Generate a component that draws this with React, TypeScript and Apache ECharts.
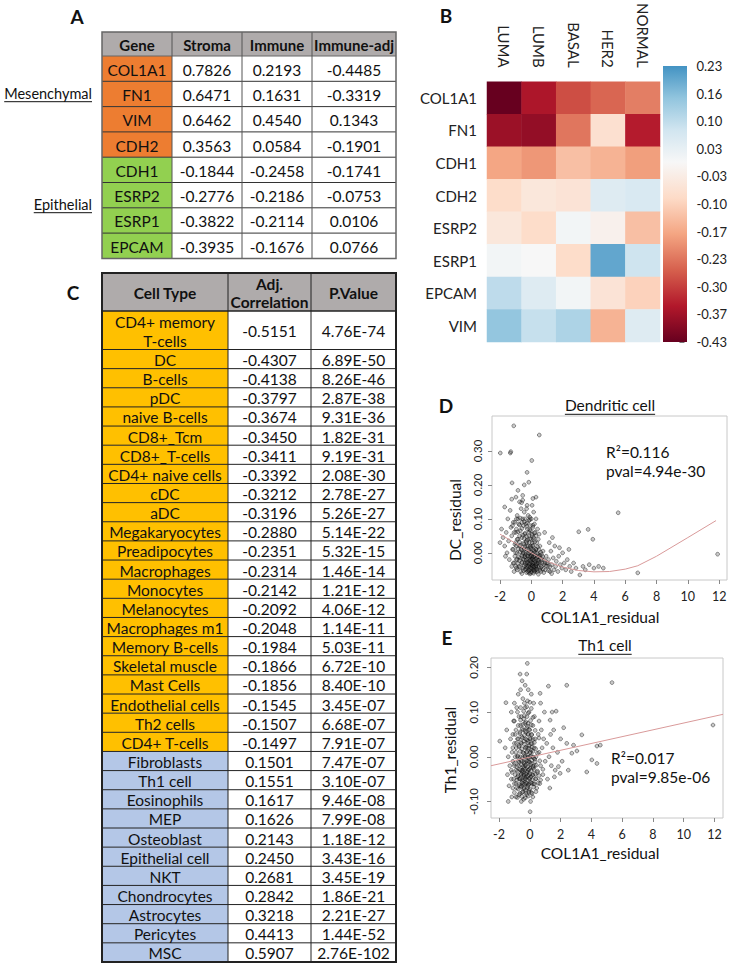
import React, { useEffect, useRef } from "react";
import * as echarts from "echarts";

const FONT = "Lato, 'Open Sans', sans-serif";

// ---------- Panel A ----------
const tableAHeader = ["Gene", "Stroma", "Immune", "Immune-adj"];
const tableAGenes = ["COL1A1", "FN1", "VIM", "CDH2", "CDH1", "ESRP2", "ESRP1", "EPCAM"];
const tableAGroup = ["Mesenchymal", "Mesenchymal", "Mesenchymal", "Mesenchymal", "Epithelial", "Epithelial", "Epithelial", "Epithelial"];
const stromaCor = [0.7826, 0.6471, 0.6462, 0.3563, -0.1844, -0.2776, -0.3822, -0.3935];
const immuneCor = [0.2193, 0.1631, 0.454, 0.0584, -0.2458, -0.2186, -0.2114, -0.1676];
const immuneAdjCor = [-0.4485, -0.3319, 0.1343, -0.1901, -0.1741, -0.0753, 0.0106, 0.0766];

// ---------- Panel B ----------
const subtypes = ["LUMA", "LUMB", "BASAL", "HER2", "NORMAL"];
const heatGenes = ["COL1A1", "FN1", "CDH1", "CDH2", "ESRP2", "ESRP1", "EPCAM", "VIM"];
const heatValues = [
  [-0.43, -0.35, -0.28, -0.25, -0.22],
  [-0.37, -0.38, -0.23, -0.07, -0.34],
  [-0.17, -0.19, -0.13, -0.15, -0.18],
  [-0.08, -0.05, -0.06, 0.05, 0.06],
  [-0.05, -0.08, 0.01, -0.02, -0.13],
  [0.01, 0.0, -0.08, 0.2, 0.08],
  [0.1, 0.05, 0.01, -0.06, -0.1],
  [0.15, 0.09, 0.12, -0.15, 0.05],
];
const colorbarLabels = ["-0.43", "-0.37", "-0.30", "-0.23", "-0.17", "-0.10", "-0.03", "0.03", "0.10", "0.16", "0.23"];
const heatMin = -0.43;
const heatMax = 0.23;

// ---------- Panel C ----------
const tableCHeader = ["Cell Type", "Adj.\nCorrelation", "P.Value"];
const cellTypes = ["CD4+ memory\nT-cells", "DC", "B-cells", "pDC", "naive B-cells", "CD8+_Tcm", "CD8+_T-cells", "CD4+ naive cells", "cDC", "aDC", "Megakaryocytes", "Preadipocytes", "Macrophages", "Monocytes", "Melanocytes", "Macrophages m1", "Memory B-cells", "Skeletal muscle", "Mast Cells", "Endothelial cells", "Th2 cells", "CD4+ T-cells", "Fibroblasts", "Th1 cell", "Eosinophils", "MEP", "Osteoblast", "Epithelial cell", "NKT", "Chondrocytes", "Astrocytes", "Pericytes", "MSC"];
const adjCorr = [-0.5151, -0.4307, -0.4138, -0.3797, -0.3674, -0.345, -0.3411, -0.3392, -0.3212, -0.3196, -0.288, -0.2351, -0.2314, -0.2142, -0.2092, -0.2048, -0.1984, -0.1866, -0.1856, -0.1545, -0.1507, -0.1497, 0.1501, 0.1551, 0.1617, 0.1626, 0.2143, 0.245, 0.2681, 0.2842, 0.3218, 0.4413, 0.5907];
const pValues = ["4.76E-74", "6.89E-50", "8.26E-46", "2.87E-38", "9.31E-36", "1.82E-31", "9.19E-31", "2.08E-30", "2.78E-27", "5.26E-27", "5.14E-22", "5.32E-15", "1.46E-14", "1.21E-12", "4.06E-12", "1.14E-11", "5.03E-11", "6.72E-10", "8.40E-10", "3.45E-07", "6.68E-07", "7.91E-07", "7.47E-07", "3.10E-07", "9.46E-08", "7.99E-08", "1.18E-12", "3.43E-16", "3.45E-19", "1.86E-21", "2.21E-27", "1.44E-52", "2.76E-102"];

// ---------- Panel D ----------
const xTicks = [-2, 0, 2, 4, 6, 8, 10, 12];
const dYTicks = [0, 0.1, 0.2, 0.3];
const ptsD: number[][] = [
  [-0.05, -0.02], [0.1, -0.03], [-0.2, -0.01], [0.25, -0.025], [-0.35, -0.035], [0.05, -0.045], [0.4, -0.04], [-0.1, 0.0], [0.15, -0.01], [-0.45, -0.02],
  [0.3, -0.05], [-0.25, -0.045], [0.0, -0.055], [0.55, -0.03], [-0.6, -0.03], [0.2, 0.005], [-0.15, -0.04], [0.35, -0.015], [-0.3, 0.01], [0.6, -0.045],
  [-0.5, 0.0], [0.45, -0.005], [-0.7, -0.015], [0.7, -0.02], [-0.05, 0.015], [0.12, -0.05], [-0.4, -0.05], [0.28, -0.035], [-0.18, -0.025], [0.02, -0.035],
  [-0.08, -0.05], [0.38, -0.055], [-0.55, -0.045], [0.5, -0.01], [-0.28, 0.02], [0.08, 0.02], [-0.65, 0.01], [0.65, -0.005], [-0.12, 0.03], [0.18, -0.04],
  [-0.38, -0.005], [0.22, -0.055], [-0.8, -0.04], [0.8, -0.035], [-0.02, -0.06], [0.32, 0.01], [-0.48, 0.025], [0.42, -0.03], [-0.22, -0.055], [0.06, -0.015],
  [-0.9, -0.02], [0.9, -0.05], [-0.75, 0.02], [0.75, 0.005], [-0.32, 0.035], [0.0, 0.04], [-0.6, 0.045], [0.35, 0.03], [-0.15, 0.05], [0.15, 0.045],
  [-1.0, 0.0], [1.0, -0.03], [-0.85, 0.04], [0.55, 0.02], [-0.42, 0.055], [0.25, 0.06], [-1.1, -0.03], [-0.95, -0.045], [0.62, -0.055], [-0.68, -0.055],
  [-0.05, 0.065], [-0.25, 0.07], [0.1, 0.075], [-0.5, 0.08], [0.3, 0.05], [-0.7, 0.065], [0.45, 0.04], [-1.05, 0.025], [-1.2, 0.01], [0.05, 0.055],
  [-0.35, 0.085], [-0.15, 0.095], [0.2, 0.085], [-0.55, 0.1], [-0.8, 0.085], [0.4, 0.07], [-1.0, 0.06], [-1.25, 0.05], [-0.2, 0.11], [0.0, 0.1],
  [-0.45, 0.12], [-0.65, 0.13], [-0.9, 0.11], [-1.15, 0.09], [0.15, 0.12], [-1.3, 0.075], [-0.3, 0.13], [-0.75, 0.15], [-1.5, 0.1], [0.05, 0.14],
  [-0.55, 0.155], [-1.35, 0.125], [-0.1, 0.105], [0.3, 0.1], [-1.6, 0.06], [-1.45, 0.035], [-1.7, 0.02], [-1.55, 0.0], [-1.4, -0.02], [-1.25, -0.04],
  [-1.8, 0.045], [-1.65, -0.01], [-2.0, 0.03], [-1.9, 0.07], [-1.1, -0.055], [-0.85, 0.1], [-0.6, 0.09], [-0.4, 0.1], [-0.05, 0.08], [0.5, 0.055],
  [-1.12, 0.374], [0.51, 0.347], [-1.98, 0.294], [-1.34, 0.294], [-1.31, 0.298], [0.03, 0.272], [-0.27, 0.237], [-1.23, 0.206], [-0.45, 0.2], [-0.16, 0.208],
  [-0.85, 0.184], [-0.98, 0.164], [-0.55, 0.169], [0.3, 0.164], [-1.7, 0.135], [-0.27, 0.14], [0.1, 0.16], [-0.62, 0.148], [-1.25, 0.158],
  [5.55, 0.118], [3.03, 0.062], [3.63, 0.069], [3.93, 0.04], [6.8, -0.059], [11.9, -0.004],
  [0.95, -0.01], [1.05, -0.04], [1.1, -0.02], [1.2, -0.055], [1.25, 0.005], [1.3, -0.035], [1.4, -0.015], [1.45, -0.05], [1.5, 0.02], [1.55, -0.04],
  [1.6, -0.025], [1.7, -0.055], [1.75, -0.01], [1.85, -0.035], [1.95, -0.045], [2.0, 0.0], [2.1, -0.03], [2.2, -0.05], [2.3, -0.02], [2.45, -0.04],
  [2.55, -0.055], [2.7, -0.03], [2.85, -0.045], [3.1, -0.065], [3.3, -0.04], [3.45, -0.05], [3.7, -0.035], [4.0, -0.045], [4.3, -0.04], [4.6, -0.045],
  [1.15, 0.03], [1.35, 0.045], [0.85, 0.06], [2.4, 0.01], [1.8, 0.015],
  [-0.1, -0.035], [0.12, -0.02], [-0.3, -0.028], [0.3, -0.042], [-0.02, -0.01], [0.2, -0.048], [-0.4, -0.012], [0.48, -0.022], [-0.15, -0.058], [0.08, -0.038],
  [-0.6, -0.061], [-0.3, -0.058], [-0.1, -0.062], [0.15, -0.06], [0.45, -0.063], [0.8, -0.058], [1.3, -0.061],
  [-0.9, -0.05], [-0.5, -0.052], [-0.35, -0.048], [-0.15, -0.051], [0.0, -0.047], [0.2, -0.053], [0.35, -0.049], [0.55, -0.051], [0.75, -0.048], [1.1, -0.052],
  [-1.0, -0.04], [-0.7, -0.042], [-0.45, -0.038], [-0.3, -0.041], [-0.2, -0.039], [-0.05, -0.043], [0.05, -0.037], [0.15, -0.041], [0.3, -0.038], [0.5, -0.042], [0.65, -0.04], [0.95, -0.039], [1.2, -0.041],
  [-1.15, -0.03], [-0.85, -0.032], [-0.6, -0.028], [-0.4, -0.031], [-0.25, -0.029], [-0.12, -0.032], [0.0, -0.028], [0.1, -0.031], [0.22, -0.029], [0.35, -0.032], [0.48, -0.028], [0.7, -0.031], [0.88, -0.029], [1.05, -0.03],
  [-0.95, -0.02], [-0.75, -0.022], [-0.5, -0.018], [-0.32, -0.021], [-0.18, -0.019], [-0.06, -0.022], [0.05, -0.018], [0.18, -0.021], [0.3, -0.019], [0.42, -0.022], [0.6, -0.018], [0.82, -0.021],
  [-1.05, -0.01], [-0.8, -0.012], [-0.6, -0.008], [-0.42, -0.011], [-0.25, -0.009], [-0.1, -0.012], [0.02, -0.008], [0.12, -0.011], [0.25, -0.009], [0.4, -0.012], [0.55, -0.008], [0.72, -0.011],
  [-0.9, 0.0], [-0.7, 0.002], [-0.55, -0.002], [-0.35, 0.001], [-0.2, -0.001], [-0.05, 0.002], [0.08, -0.002], [0.22, 0.001], [0.35, -0.001], [0.6, 0.002],
  [-1.15, 0.01], [-0.85, 0.012], [-0.6, 0.008], [-0.45, 0.011], [-0.15, 0.009], [0.0, 0.012], [0.15, 0.008], [0.28, 0.011], [0.5, 0.009],
  [-0.95, 0.02], [-0.7, 0.022], [-0.4, 0.018], [-0.2, 0.021], [-0.05, 0.019], [0.12, 0.022], [0.4, 0.018],
  [-1.0, 0.03], [-0.75, 0.032], [-0.5, 0.028], [-0.3, 0.031], [0.05, 0.029], [0.22, 0.032],
  [-0.9, 0.04], [-0.45, 0.042], [-0.25, 0.038], [-0.1, 0.041], [0.15, 0.039],
  [-0.75, 0.05], [-0.55, 0.052], [-0.3, 0.048], [0.05, 0.051],
  [-1.1, 0.06], [-0.85, 0.062], [-0.4, 0.058], [-0.15, 0.061], [0.2, 0.059],
  [-0.95, 0.07], [-0.6, 0.072], [-0.1, 0.068],
  [-1.2, 0.08], [-0.75, 0.082], [-0.3, 0.078], [0.1, 0.081],
  [-1.05, 0.09], [-0.45, 0.092], [-0.25, 0.088],
  [-0.95, 0.1], [-0.7, 0.102], [-0.1, 0.098],
];
const loessD: number[][] = [[-2, 0.055], [-1, 0.028], [0, 0.0], [1, -0.025], [2, -0.042], [3, -0.052], [4, -0.056], [5, -0.055], [6, -0.048], [6.8, -0.038], [8, -0.01], [10, 0.045], [11.8, 0.095]];

// ---------- Panel E ----------
const eYTicks = [-0.1, 0, 0.1, 0.2];
const ptsE: number[][] = [
  [-0.3, -0.02], [-0.1, -0.03], [-0.5, -0.01], [0.0, -0.05], [-0.2, 0.0], [-0.4, -0.04], [0.1, -0.015], [-0.6, -0.03], [-0.25, -0.06], [0.2, -0.04],
  [-0.15, 0.02], [-0.45, 0.01], [0.05, 0.01], [-0.7, -0.05], [-0.35, -0.07], [0.3, -0.02], [-0.55, 0.03], [-0.05, -0.075], [0.15, 0.03], [-0.8, 0.0],
  [-0.28, 0.04], [-0.65, -0.065], [0.4, 0.0], [-0.9, -0.03], [-0.12, 0.05], [0.25, -0.06], [-0.42, 0.06], [-1.0, -0.015], [0.5, -0.035], [-0.75, 0.04],
  [-0.2, -0.085], [0.0, 0.06], [-0.5, -0.08], [0.35, 0.04], [-0.85, -0.07], [-0.32, 0.075], [0.6, 0.01], [-1.1, 0.02], [0.1, -0.08], [-0.6, 0.07],
  [-0.18, 0.09], [0.2, 0.07], [-0.95, 0.05], [-0.4, -0.095], [0.45, -0.07], [-1.2, -0.05], [-0.05, 0.1], [0.7, -0.02], [-0.7, 0.09], [-0.3, 0.11],
  [0.3, 0.09], [-1.3, -0.02], [-0.55, -0.1], [0.05, -0.1], [-1.05, 0.08], [0.55, 0.05], [-0.15, 0.125], [-0.45, 0.13], [0.8, 0.02], [-0.85, 0.11],
  [-0.22, -0.045], [-0.38, -0.025], [-0.08, -0.01], [-0.48, -0.055], [0.08, -0.045], [-0.62, 0.0], [-0.3, 0.02], [0.02, -0.025], [-0.72, -0.02], [-0.18, -0.035],
  [-0.52, 0.045], [0.18, 0.0], [-0.35, -0.045], [-0.1, 0.035], [-0.8, -0.045], [0.28, 0.02], [-0.6, -0.05], [-0.25, 0.055], [0.12, 0.05], [-0.42, -0.06],
  [-0.02, -0.06], [-0.68, 0.025], [0.38, -0.05], [-0.9, 0.01], [-0.28, -0.05], [-0.12, -0.065], [0.22, -0.025], [-0.58, -0.04], [-0.32, 0.0], [0.0, 0.0],
  [-0.45, -0.03], [-0.15, -0.01], [-0.75, -0.01], [0.1, 0.015], [-0.2, 0.065], [-0.38, 0.035], [-0.05, 0.025], [-0.65, 0.055], [0.32, -0.005], [-0.88, 0.03],
  [-1.0, -0.06], [-1.15, -0.035], [-1.25, 0.04], [-1.4, 0.0], [-1.35, -0.065], [-1.5, 0.06], [-1.45, -0.04], [-1.6, 0.02], [-1.2, 0.1], [-1.0, 0.12],
  [0.6, 0.08], [0.65, -0.06], [0.75, 0.06], [0.85, -0.04], [0.9, 0.04], [1.0, -0.01], [0.95, 0.1], [1.1, 0.03], [1.15, -0.05], [0.7, 0.12],
  [-0.6, 0.15], [-0.3, 0.16], [-0.1, 0.15], [0.1, 0.14], [-0.5, 0.17], [-0.2, 0.185], [-0.75, 0.14], [0.25, 0.12], [-0.9, -0.09], [-0.7, -0.085],
  [-0.16, 0.209], [-0.63, 0.185], [2.4, 0.16], [1.21, 0.158], [5.34, 0.166], [11.9, 0.071], [1.71, 0.102], [-1.55, 0.121], [-1.95, 0.035], [3.38, 0.049],
  [4.36, 0.024], [4.58, 0.026], [4.03, -0.007], [4.36, -0.015], [3.7, -0.034], [0.02, -0.123], [-1.4, -0.1], [-1.17, -0.09], [2.4, 0.03], [2.84, 0.026],
  [2.73, 0.008], [3.06, 0.013], [1.86, -0.022], [1.65, -0.03], [1.97, -0.037], [1.32, 0.082], [0.67, 0.142],
  [1.25, 0.0], [1.35, 0.05], [1.4, -0.02], [1.5, 0.02], [1.55, 0.06], [1.6, -0.045], [1.8, 0.01], [2.0, 0.04], [2.1, -0.01], [2.2, 0.065], [1.3, -0.07], [1.45, 0.1], [2.5, -0.03],
  [-0.35, -0.015], [-0.22, 0.01], [-0.48, -0.035], [-0.05, -0.04], [-0.28, -0.075], [0.05, 0.04], [-0.55, -0.065], [-0.12, 0.075], [-0.4, 0.085], [0.15, -0.06],
  [-0.8, -0.091], [-0.5, -0.089], [-0.3, -0.092], [-0.1, -0.088], [0.2, -0.09],
  [-1.0, -0.08], [-0.65, -0.082], [-0.45, -0.078], [-0.25, -0.081], [-0.05, -0.079], [0.15, -0.082], [0.4, -0.078],
  [-1.1, -0.07], [-0.75, -0.072], [-0.55, -0.068], [-0.4, -0.071], [-0.15, -0.069], [0.0, -0.072], [0.25, -0.068],
  [-0.9, -0.06], [-0.7, -0.062], [-0.5, -0.058], [-0.33, -0.061], [-0.2, -0.059], [-0.08, -0.062], [0.08, -0.058], [0.3, -0.061], [0.55, -0.059],
  [-1.05, -0.05], [-0.85, -0.052], [-0.62, -0.048], [-0.45, -0.051], [-0.3, -0.049], [-0.15, -0.052], [-0.02, -0.048], [0.15, -0.051], [0.4, -0.049], [0.7, -0.052],
  [-0.95, -0.04], [-0.75, -0.042], [-0.55, -0.038], [-0.38, -0.041], [-0.25, -0.039], [-0.1, -0.042], [0.02, -0.038], [0.2, -0.041], [0.35, -0.039], [0.6, -0.042],
  [-1.2, -0.03], [-0.8, -0.032], [-0.65, -0.028], [-0.5, -0.031], [-0.32, -0.029], [-0.2, -0.032], [-0.05, -0.028], [0.1, -0.031], [0.28, -0.029], [0.5, -0.032], [0.85, -0.028],
  [-1.0, -0.02], [-0.85, -0.022], [-0.55, -0.018], [-0.42, -0.021], [-0.26, -0.019], [-0.12, -0.022], [0.05, -0.018], [0.2, -0.021], [0.42, -0.019],
  [-1.1, -0.01], [-0.7, -0.012], [-0.58, -0.008], [-0.36, -0.011], [-0.22, -0.009], [-0.02, -0.012], [0.12, -0.008], [0.35, -0.011], [0.65, -0.009],
  [-0.95, 0.0], [-0.78, 0.002], [-0.48, -0.002], [-0.3, 0.001], [-0.1, -0.001], [0.07, 0.002], [0.25, -0.002],
  [-1.15, 0.01], [-0.62, 0.012], [-0.4, 0.008], [-0.18, 0.011], [0.0, 0.009], [0.2, 0.012], [0.5, 0.008],
  [-0.88, 0.02], [-0.7, 0.022], [-0.52, 0.018], [-0.25, 0.021], [-0.05, 0.019], [0.15, 0.022], [0.38, 0.018],
  [-1.0, 0.03], [-0.6, 0.032], [-0.35, 0.028], [-0.12, 0.031], [0.08, 0.029], [0.3, 0.032],
  [-0.8, 0.04], [-0.48, 0.042], [-0.2, 0.038], [0.0, 0.041], [0.22, 0.039], [0.6, 0.042],
  [-1.1, 0.05], [-0.65, 0.052], [-0.35, 0.048], [-0.1, 0.051], [0.12, 0.049],
  [-0.9, 0.06], [-0.5, 0.062], [-0.3, 0.058], [-0.05, 0.061], [0.35, 0.059],
  [-0.75, 0.07], [-0.45, 0.072], [-0.15, 0.068], [0.1, 0.071],
  [-1.0, 0.08], [-0.6, 0.082], [-0.25, 0.078], [0.05, 0.081],
  [-0.55, 0.09], [-0.35, 0.092], [0.2, 0.088],
  [-0.8, 0.1], [-0.4, 0.102], [-0.1, 0.098],
  [-0.6, 0.11], [-0.2, 0.112], [0.1, 0.108],
  [-0.35, 0.12], [0.0, 0.122],
];
const fitE: number[][] = [[-2.52, -0.02], [12.55, 0.095]];

// ---------- colour scale ----------
const anchors: [number, string][] = [
  [-0.43, "#67001f"], [-0.344, "#b2182b"], [-0.258, "#d6604d"], [-0.172, "#f4a582"],
  [-0.086, "#fddbc7"], [0, "#f7f7f7"], [0.077, "#d1e5f0"], [0.153, "#92c5de"], [0.23, "#4393c3"],
];
function hexRgb(h: string) {
  return [parseInt(h.slice(1, 3), 16), parseInt(h.slice(3, 5), 16), parseInt(h.slice(5, 7), 16)];
}
function colorAt(v: number) {
  for (let i = 0; i < anchors.length - 1; i++) {
    const [a, ca] = anchors[i];
    const [b, cb] = anchors[i + 1];
    if (v <= b || i === anchors.length - 2) {
      const t = Math.max(0, Math.min(1, (v - a) / (b - a)));
      const A = hexRgb(ca), B = hexRgb(cb);
      const c = A.map((x, k) => Math.round(x + (B[k] - x) * t));
      return `rgb(${c[0]},${c[1]},${c[2]})`;
    }
  }
  return anchors[anchors.length - 1][1];
}

function measure(text: string, font: string) {
  const ctx = document.createElement("canvas").getContext("2d");
  if (!ctx) return text.length * 7;
  ctx.font = font;
  return ctx.measureText(text).width;
}

export default function App() {
  const ref = useRef<HTMLDivElement>(null);
  useEffect(() => {
    if (!ref.current) return;
    const chart = echarts.init(ref.current, undefined, { renderer: "svg" });
    const g: any[] = [];
    const font = (size: number, bold = false) => `${bold ? "bold " : ""}${size}px ${FONT}`;
    const txt = (x: number, y: number, text: string, o: any = {}) => {
      g.push({
        type: "text", x, y, z: 20, rotation: o.rot || 0,
        style: {
          text, font: font(o.size || 14, o.bold), fill: o.color || "#111",
          align: o.align || "center", verticalAlign: o.va || "middle",
          textAlign: o.align || "center", textVerticalAlign: o.va || "middle",
          lineHeight: o.lh || undefined,
        },
      });
    };
    const rect = (x: number, y: number, w: number, h: number, fill: string) =>
      g.push({ type: "rect", z: 5, shape: { x, y, width: w, height: h }, style: { fill } });
    const line = (x1: number, y1: number, x2: number, y2: number, stroke: string, lw = 1) =>
      g.push({ type: "line", z: 15, shape: { x1, y1, x2, y2 }, style: { stroke, lineWidth: lw } });
    const underlined = (x: number, y: number, text: string, size: number, align: string) => {
      txt(x, y, text, { size, align, color: "#111" });
      const w = measure(text, font(size));
      const x0 = align === "right" ? x - w : align === "center" ? x - w / 2 : x;
      line(x0, y + size * 0.6, x0 + w, y + size * 0.6, "#111", 1);
    };

    // panel letters
    txt(77, 16, "A", { size: 19, bold: true });
    txt(446, 15, "B", { size: 19, bold: true });
    txt(73, 292, "C", { size: 19, bold: true });
    txt(446, 405, "D", { size: 19, bold: true });
    txt(447, 637, "E", { size: 19, bold: true });

    // ----- Table A -----
    const aCols = [102, 172, 242, 312, 396];
    const aTop = 32, aHead = 56, aRowH = 25.3;
    const aBottom = aHead + aRowH * tableAGenes.length;
    for (let c = 0; c < 4; c++) {
      rect(aCols[c], aTop, aCols[c + 1] - aCols[c], aHead - aTop, "#afabab");
      txt((aCols[c] + aCols[c + 1]) / 2, (aTop + aHead) / 2 + 1, tableAHeader[c], { bold: true, size: 15 });
    }
    tableAGenes.forEach((gene, r) => {
      const y0 = aHead + r * aRowH;
      const cy = y0 + aRowH / 2 + 1;
      const fill = tableAGroup[r] === "Mesenchymal" ? "#ed7d31" : "#92d050";
      rect(aCols[0], y0, aCols[1] - aCols[0], aRowH, fill);
      for (let c = 1; c < 4; c++) rect(aCols[c], y0, aCols[c + 1] - aCols[c], aRowH, "#ffffff");
      txt((aCols[0] + aCols[1]) / 2, cy, gene, { size: 15.5 });
      txt((aCols[1] + aCols[2]) / 2, cy, stromaCor[r].toFixed(4), { size: 15.5 });
      txt((aCols[2] + aCols[3]) / 2, cy, immuneCor[r].toFixed(4), { size: 15.5 });
      txt((aCols[3] + aCols[4]) / 2, cy, immuneAdjCor[r].toFixed(4), { size: 15.5 });
      line(aCols[0], y0, aCols[4], y0, r === 0 ? "#666" : "#333", 1);
    });
    for (let c = 1; c < 4; c++) line(aCols[c], aTop, aCols[c], aBottom, "#555", 1);
    g.push({ type: "rect", z: 16, shape: { x: aCols[0], y: aTop, width: aCols[4] - aCols[0], height: aBottom - aTop }, style: { fill: "none", stroke: "#666", lineWidth: 1.5 } });
    underlined(92, 93, "Mesenchymal", 14.5, "right");
    underlined(92, 204, "Epithelial", 14.5, "right");

    // ----- Table C -----
    const cCols = [102, 228, 311, 396];
    const cTop = 273, cHead = 311, cFirst = 349.5, cRowH = 19.14;
    const cBottom = cFirst + cRowH * (cellTypes.length - 1);
    for (let c = 0; c < 3; c++) {
      rect(cCols[c], cTop, cCols[c + 1] - cCols[c], cHead - cTop, "#afabab");
      txt((cCols[c] + cCols[c + 1]) / 2, (cTop + cHead) / 2 + 1, tableCHeader[c], { bold: true, size: 15.5, lh: 18 });
    }
    cellTypes.forEach((ct, r) => {
      const y0 = r === 0 ? cHead : cFirst + (r - 1) * cRowH;
      const h = r === 0 ? cFirst - cHead : cRowH;
      const cy = y0 + h / 2 + 1;
      rect(cCols[0], y0, cCols[1] - cCols[0], h, adjCorr[r] < 0 ? "#ffc000" : "#b4c7e7");
      rect(cCols[1], y0, cCols[2] - cCols[1], h, "#ffffff");
      rect(cCols[2], y0, cCols[3] - cCols[2], h, "#ffffff");
      txt((cCols[0] + cCols[1]) / 2, cy, ct, { size: 15.5, lh: 19 });
      txt((cCols[1] + cCols[2]) / 2, cy, adjCorr[r].toFixed(4), { size: 15.5 });
      txt((cCols[2] + cCols[3]) / 2, cy, pValues[r], { size: 15.5 });
      line(cCols[0], y0, cCols[3], y0, "#222", r === 0 ? 1.5 : 1);
    });
    for (let c = 1; c < 3; c++) line(cCols[c], cTop, cCols[c], cBottom, "#222", 1);
    g.push({ type: "rect", z: 16, shape: { x: cCols[0], y: cTop, width: cCols[3] - cCols[0], height: cBottom - cTop }, style: { fill: "none", stroke: "#222", lineWidth: 2 } });

    // ----- colour bar -----
    const cbTop = 66, cbH = 276;
    g.push({
      type: "rect", z: 5, shape: { x: 663, y: cbTop, width: 24, height: cbH },
      style: {
        fill: new echarts.graphic.LinearGradient(0, 0, 0, 1,
          anchors.map(([v, c]) => ({ offset: (heatMax - v) / (heatMax - heatMin), color: c })).reverse()),
      },
    });

    // ----- scatter titles / annotations -----
    underlined(610, 405, "Dendritic cell", 15.5, "center");
    txt(606, 452, "R\u00b2=0.116", { size: 15.5, align: "left" });
    txt(606, 471, "pval=4.94e-30", { size: 15.5, align: "left" });
    txt(600, 617, "COL1A1_residual", { size: 15.5 });
    txt(455, 520, "DC_residual", { size: 15.5, rot: Math.PI / 2 });

    underlined(605, 645, "Th1 cell", 15.5, "center");
    txt(611, 758, "R\u00b2=0.017", { size: 15.5, align: "left" });
    txt(611, 777, "pval=9.85e-06", { size: 15.5, align: "left" });
    txt(600, 853, "COL1A1_residual", { size: 15.5 });
    txt(450, 750, "Th1_residual", { size: 15.5, rot: Math.PI / 2 });

    const heatData: number[][] = [];
    heatValues.forEach((row, yi) => row.forEach((v, xi) => heatData.push([xi, yi, v])));
    const vmColors: string[] = [];
    for (let k = 0; k <= 66; k++) vmColors.push(colorAt(heatMin + k * 0.01));

    const tickStyle = { show: true, length: 4, lineStyle: { color: "#888", width: 1 } };
    const pointStyle = { color: "rgba(60,60,60,0.35)", borderColor: "rgba(0,0,0,0.7)", borderWidth: 0.7 };
    const hiddenLine = { show: false, onZero: false };

    chart.setOption({
      animation: false,
      backgroundColor: "#ffffff",
      textStyle: { fontFamily: FONT },
      grid: [
        { left: 487, top: 66, width: 173, height: 276 },
        { left: 663, top: 66, width: 24, height: 276 },
        { left: 492, top: 416, width: 235, height: 164, show: true, borderColor: "#c8c8c8", borderWidth: 1, backgroundColor: "transparent" },
        { left: 491, top: 658, width: 232, height: 160, show: true, borderColor: "#c8c8c8", borderWidth: 1, backgroundColor: "transparent" },
      ],
      xAxis: [
        {
          gridIndex: 0, type: "category", data: subtypes, position: "top",
          axisLine: { show: false }, axisTick: { show: false },
          axisLabel: { rotate: 90, margin: 14, fontSize: 15, color: "#222", fontFamily: FONT },
        },
        { gridIndex: 1, type: "category", data: [""], show: false },
        {
          gridIndex: 2, type: "value", min: -2.51, max: 12.5,
          axisLine: hiddenLine, splitLine: { show: false },
          axisTick: { ...tickStyle, customValues: xTicks },
          axisLabel: { customValues: xTicks, fontSize: 12.5, color: "#222", margin: 10, fontFamily: FONT },
        },
        {
          gridIndex: 3, type: "value", min: -2.52, max: 12.55,
          axisLine: hiddenLine, splitLine: { show: false },
          axisTick: { ...tickStyle, customValues: xTicks },
          axisLabel: { customValues: xTicks, fontSize: 12.5, color: "#222", margin: 10, fontFamily: FONT },
        },
      ],
      yAxis: [
        {
          gridIndex: 0, type: "category", data: heatGenes, inverse: true,
          axisLine: { show: false }, axisTick: { show: false },
          axisLabel: { margin: 10, fontSize: 15, color: "#222", fontFamily: FONT },
        },
        {
          gridIndex: 1, type: "category", data: colorbarLabels, boundaryGap: false, position: "right",
          axisLine: { show: false },
          axisTick: { show: true, length: 5, lineStyle: { color: "#777" } },
          axisLabel: { margin: 17, fontSize: 13, color: "#222", align: "left", fontFamily: FONT },
        },
        {
          gridIndex: 2, type: "value", min: -0.08, max: 0.403,
          axisLine: hiddenLine, splitLine: { show: false },
          axisTick: { ...tickStyle, customValues: dYTicks },
          axisLabel: { customValues: dYTicks, rotate: 90, fontSize: 11.5, color: "#222", margin: 9, formatter: (v: number) => v.toFixed(2), fontFamily: FONT },
        },
        {
          gridIndex: 3, type: "value", min: -0.137, max: 0.221,
          axisLine: hiddenLine, splitLine: { show: false },
          axisTick: { ...tickStyle, customValues: eYTicks },
          axisLabel: { customValues: eYTicks, rotate: 90, fontSize: 11.5, color: "#222", margin: 12, formatter: (v: number) => v.toFixed(2), fontFamily: FONT },
        },
      ],
      visualMap: {
        type: "continuous", show: false, seriesIndex: 0, min: heatMin, max: heatMax,
        inRange: { color: vmColors },
      },
      series: [
        { type: "heatmap", xAxisIndex: 0, yAxisIndex: 0, data: heatData, emphasis: { disabled: true }, itemStyle: { borderWidth: 0 } },
        { type: "scatter", xAxisIndex: 2, yAxisIndex: 2, data: ptsD, symbolSize: 3.8, itemStyle: pointStyle, silent: true },
        { type: "line", xAxisIndex: 2, yAxisIndex: 2, data: loessD, showSymbol: false, lineStyle: { color: "#d99a9a", width: 1 }, silent: true },
        { type: "scatter", xAxisIndex: 3, yAxisIndex: 3, data: ptsE, symbolSize: 3.8, itemStyle: pointStyle, silent: true },
        { type: "line", xAxisIndex: 3, yAxisIndex: 3, data: fitE, showSymbol: false, lineStyle: { color: "#d99a9a", width: 1 }, silent: true },
      ],
      graphic: { elements: g },
    });
    return () => chart.dispose();
  }, []);
  return <div ref={ref} style={{ position: "absolute", left: 0, top: 0, width: 730, height: 972 }} />;
}
